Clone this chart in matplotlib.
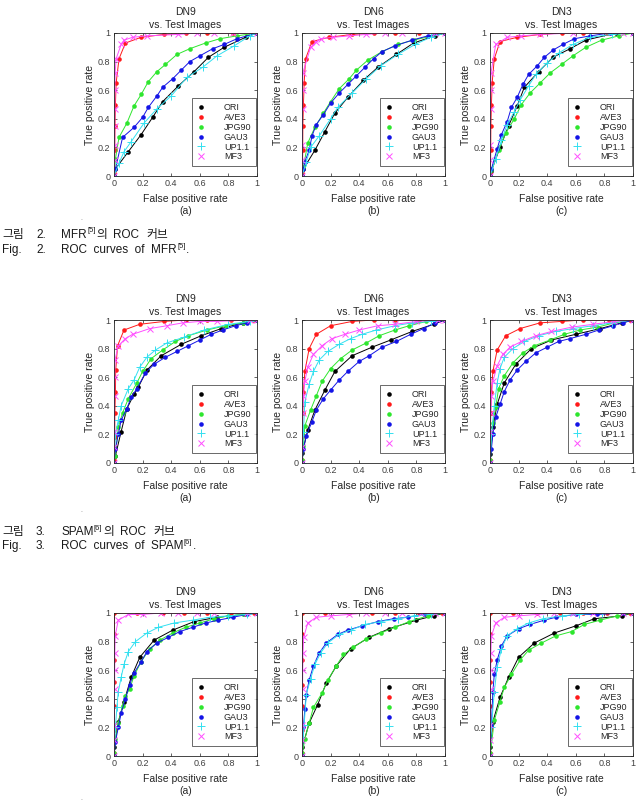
import matplotlib
matplotlib.use("Agg")
import matplotlib.pyplot as plt
from matplotlib.lines import Line2D

W, H = 640, 811
plt.rcParams['font.family'] = ['Liberation Sans', 'Noto Sans CJK KR', 'DejaVu Sans']

# ---------------- data (FPR list, TPR list) ----------------
# Fig. 2 : MFR
MFR_DN9_ORI = ([0, 0.01, 0.10, 0.19, 0.27, 0.34, 0.45, 0.56, 0.66, 0.77, 0.92, 1.0],
               [0, 0.05, 0.17, 0.29, 0.41, 0.52, 0.63, 0.73, 0.83, 0.90, 0.97, 1.0])
MFR_DN9_AVE3 = ([0, 0.003, 0.005, 0.007, 0.01, 0.015, 0.035, 0.08, 0.19, 0.35, 0.50, 0.65, 0.83, 1.0],
                [0, 0.02, 0.18, 0.35, 0.50, 0.65, 0.82, 0.93, 0.97, 0.99, 1.0, 1.0, 1.0, 1.0])
MFR_DN9_JPG90 = ([0, 0.01, 0.035, 0.09, 0.14, 0.19, 0.24, 0.30, 0.36, 0.44, 0.53, 0.64, 0.74, 0.86, 1.0],
                 [0, 0.12, 0.27, 0.37, 0.49, 0.57, 0.66, 0.73, 0.78, 0.85, 0.89, 0.93, 0.96, 0.98, 1.0])
MFR_DN9_GAU3 = ([0, 0.01, 0.06, 0.14, 0.20, 0.24, 0.30, 0.34, 0.41, 0.47, 0.53, 0.60, 0.69, 0.77, 0.86, 1.0],
                [0, 0.05, 0.27, 0.34, 0.41, 0.48, 0.56, 0.62, 0.68, 0.74, 0.80, 0.84, 0.89, 0.92, 0.96, 1.0])
MFR_DN9_UP11 = ([0, 0.035, 0.07, 0.12, 0.21, 0.30, 0.40, 0.51, 0.62, 0.72, 0.84, 0.95, 1.0],
                [0, 0.09, 0.17, 0.24, 0.37, 0.47, 0.56, 0.69, 0.76, 0.84, 0.91, 0.98, 1.0])
MFR_DN9_MF3 = ([0, 0.004, 0.005, 0.005, 0.006, 0.006, 0.008, 0.015, 0.05, 0.07, 0.13, 0.23, 0.45, 0.58, 0.70, 0.83, 1.0],
               [0, 0.11, 0.22, 0.35, 0.47, 0.60, 0.72, 0.82, 0.92, 0.95, 0.97, 0.98, 0.99, 1.0, 1.0, 1.0, 1.0])

MFR_DN6_ORI = ([0, 0.01, 0.09, 0.16, 0.23, 0.32, 0.43, 0.53, 0.66, 0.78, 0.93, 1.0],
               [0, 0.05, 0.18, 0.31, 0.44, 0.55, 0.67, 0.76, 0.85, 0.93, 0.98, 1.0])
MFR_DN6_AVE3 = ([0, 0.003, 0.005, 0.006, 0.01, 0.015, 0.025, 0.07, 0.19, 0.35, 0.50, 0.65, 0.82, 1.0],
                [0, 0.02, 0.18, 0.35, 0.50, 0.65, 0.82, 0.94, 0.97, 0.99, 1.0, 1.0, 1.0, 1.0])
MFR_DN6_JPG90 = ([0, 0.01, 0.04, 0.09, 0.15, 0.20, 0.26, 0.33, 0.38, 0.46, 0.56, 0.67, 0.78, 1.0],
                 [0, 0.06, 0.23, 0.34, 0.44, 0.52, 0.61, 0.68, 0.74, 0.81, 0.87, 0.92, 0.95, 1.0])
MFR_DN6_GAU3 = ([0, 0.01, 0.02, 0.05, 0.07, 0.10, 0.15, 0.20, 0.26, 0.32, 0.38, 0.44, 0.50, 0.56, 0.65, 0.77, 0.88, 1.0],
                [0, 0.05, 0.10, 0.18, 0.28, 0.36, 0.43, 0.51, 0.58, 0.64, 0.70, 0.76, 0.82, 0.87, 0.91, 0.95, 0.98, 1.0])
MFR_DN6_UP11 = ([0, 0.03, 0.06, 0.12, 0.20, 0.25, 0.35, 0.45, 0.55, 0.67, 0.79, 0.90, 1.0],
                [0, 0.10, 0.20, 0.28, 0.40, 0.48, 0.58, 0.68, 0.77, 0.85, 0.92, 0.97, 1.0])
MFR_DN6_MF3 = ([0, 0.002, 0.003, 0.004, 0.005, 0.006, 0.06, 0.10, 0.13, 0.22, 0.33, 0.45, 0.58, 0.70, 0.93, 1.0],
               [0, 0.11, 0.22, 0.47, 0.60, 0.72, 0.90, 0.94, 0.96, 0.97, 0.98, 0.99, 1.0, 1.0, 1.0, 1.0])

MFR_DN3_ORI = ([0, 0.01, 0.07, 0.13, 0.19, 0.24, 0.34, 0.44, 0.56, 0.67, 0.88, 1.0],
               [0, 0.035, 0.20, 0.35, 0.49, 0.62, 0.73, 0.83, 0.89, 0.95, 1.0, 1.0])
MFR_DN3_AVE3 = ([0, 0.003, 0.005, 0.006, 0.01, 0.015, 0.03, 0.07, 0.19, 0.35, 0.50, 0.65, 0.82, 1.0],
                [0, 0.02, 0.18, 0.35, 0.50, 0.65, 0.82, 0.94, 0.97, 0.99, 1.0, 1.0, 1.0, 1.0])
MFR_DN3_JPG90 = ([0, 0.01, 0.06, 0.11, 0.17, 0.22, 0.28, 0.35, 0.42, 0.50, 0.58, 0.67, 0.78, 0.90, 1.0],
                 [0, 0.04, 0.18, 0.30, 0.40, 0.50, 0.58, 0.65, 0.72, 0.78, 0.84, 0.90, 0.95, 0.98, 1.0])
MFR_DN3_GAU3 = ([0, 0.01, 0.05, 0.08, 0.12, 0.15, 0.19, 0.23, 0.27, 0.33, 0.38, 0.44, 0.51, 0.59, 0.70, 0.84, 1.0],
                [0, 0.05, 0.19, 0.29, 0.38, 0.48, 0.55, 0.64, 0.71, 0.77, 0.83, 0.88, 0.92, 0.96, 0.98, 1.0, 1.0])
MFR_DN3_UP11 = ([0, 0.04, 0.08, 0.12, 0.17, 0.21, 0.27, 0.32, 0.40, 0.48, 0.58, 0.70, 0.85, 1.0],
                [0, 0.12, 0.25, 0.36, 0.45, 0.53, 0.63, 0.71, 0.79, 0.86, 0.92, 0.97, 0.99, 1.0])
MFR_DN3_MF3 = ([0, 0.002, 0.003, 0.004, 0.005, 0.007, 0.04, 0.12, 0.22, 0.35, 0.58, 0.93, 1.0],
               [0, 0.11, 0.22, 0.47, 0.60, 0.72, 0.92, 0.97, 0.98, 0.99, 1.0, 1.0, 1.0])

# Fig. 3 : SPAM
SPAM_DN9_ORI = ([0, 0.01, 0.05, 0.09, 0.14, 0.17, 0.23, 0.33, 0.47, 0.61, 0.75, 0.90, 1.0],
                [0, 0.05, 0.22, 0.38, 0.48, 0.53, 0.65, 0.75, 0.83, 0.89, 0.94, 0.98, 1.0])
SPAM_DN9_AVE3 = ([0, 0.003, 0.005, 0.006, 0.01, 0.012, 0.025, 0.07, 0.18, 0.35, 0.50, 0.65, 0.82, 0.97, 1.0],
                 [0, 0.02, 0.18, 0.35, 0.50, 0.65, 0.82, 0.93, 0.97, 0.99, 1.0, 1.0, 1.0, 1.0, 1.0])
SPAM_DN9_JPG90 = ([0, 0.01, 0.03, 0.06, 0.10, 0.16, 0.20, 0.26, 0.34, 0.43, 0.52, 0.65, 0.78, 0.90, 1.0],
                  [0, 0.05, 0.25, 0.35, 0.45, 0.56, 0.64, 0.73, 0.79, 0.85, 0.89, 0.93, 0.96, 0.98, 1.0])
SPAM_DN9_GAU3 = ([0, 0.01, 0.03, 0.05, 0.09, 0.12, 0.16, 0.22, 0.28, 0.36, 0.44, 0.52, 0.60, 0.68, 0.76, 0.85, 0.93, 1.0],
                 [0, 0.10, 0.20, 0.30, 0.38, 0.46, 0.52, 0.63, 0.69, 0.74, 0.78, 0.82, 0.86, 0.90, 0.93, 0.96, 0.98, 1.0])
SPAM_DN9_UP11 = ([0, 0.01, 0.03, 0.05, 0.10, 0.14, 0.18, 0.23, 0.29, 0.37, 0.49, 0.63, 0.80, 0.95, 1.0],
                 [0, 0.20, 0.30, 0.40, 0.52, 0.58, 0.67, 0.74, 0.79, 0.84, 0.88, 0.93, 0.97, 0.99, 1.0])
SPAM_DN9_MF3 = ([0, 0.002, 0.003, 0.004, 0.005, 0.007, 0.03, 0.08, 0.13, 0.25, 0.37, 0.48, 0.60, 0.72, 0.95, 1.0],
                [0, 0.11, 0.22, 0.47, 0.60, 0.72, 0.82, 0.87, 0.90, 0.94, 0.96, 0.98, 0.99, 0.99, 1.0, 1.0])

SPAM_DN6_ORI = ([0, 0.002, 0.04, 0.09, 0.16, 0.23, 0.35, 0.49, 0.62, 0.77, 0.92, 1.0],
                [0, 0.07, 0.23, 0.37, 0.51, 0.64, 0.75, 0.81, 0.86, 0.92, 0.97, 1.0])
SPAM_DN6_AVE3 = ([0, 0.002, 0.003, 0.005, 0.01, 0.02, 0.05, 0.10, 0.20, 0.35, 0.50, 0.65, 0.82, 1.0],
                 [0, 0.02, 0.18, 0.35, 0.50, 0.64, 0.80, 0.90, 0.96, 0.99, 1.0, 1.0, 1.0, 1.0])
SPAM_DN6_JPG90 = ([0, 0.003, 0.01, 0.02, 0.06, 0.10, 0.14, 0.20, 0.27, 0.35, 0.45, 0.54, 0.65, 0.75, 0.87, 1.0],
                  [0, 0.02, 0.12, 0.26, 0.37, 0.47, 0.57, 0.66, 0.73, 0.79, 0.84, 0.89, 0.93, 0.96, 0.99, 1.0])
SPAM_DN6_GAU3 = ([0, 0.01, 0.03, 0.07, 0.10, 0.15, 0.20, 0.26, 0.32, 0.40, 0.47, 0.56, 0.66, 0.76, 0.85, 0.93, 1.0],
                 [0, 0.10, 0.19, 0.29, 0.37, 0.45, 0.51, 0.58, 0.64, 0.71, 0.75, 0.81, 0.85, 0.90, 0.94, 0.98, 1.0])
SPAM_DN6_UP11 = ([0, 0.01, 0.02, 0.05, 0.08, 0.12, 0.18, 0.26, 0.34, 0.42, 0.52, 0.65, 0.77, 0.90, 1.0],
                 [0, 0.22, 0.43, 0.55, 0.64, 0.72, 0.78, 0.83, 0.87, 0.90, 0.93, 0.96, 0.98, 0.99, 1.0])
SPAM_DN6_MF3 = ([0, 0.002, 0.005, 0.01, 0.02, 0.04, 0.08, 0.14, 0.21, 0.30, 0.40, 0.53, 0.65, 0.80, 0.95, 1.0],
                [0, 0.11, 0.35, 0.47, 0.57, 0.67, 0.76, 0.82, 0.87, 0.90, 0.93, 0.96, 0.97, 0.99, 1.0, 1.0])

SPAM_DN3_ORI = ([0, 0.002, 0.02, 0.05, 0.10, 0.18, 0.29, 0.43, 0.60, 0.77, 0.92, 1.0],
                [0, 0.06, 0.25, 0.41, 0.56, 0.69, 0.80, 0.86, 0.90, 0.94, 0.98, 1.0])
SPAM_DN3_AVE3 = ([0, 0.002, 0.003, 0.005, 0.01, 0.02, 0.05, 0.11, 0.21, 0.35, 0.50, 0.65, 0.83, 0.98, 1.0],
                 [0, 0.02, 0.18, 0.35, 0.50, 0.64, 0.79, 0.89, 0.94, 0.98, 0.99, 1.0, 1.0, 1.0, 1.0])
SPAM_DN3_JPG90 = ([0, 0.003, 0.02, 0.04, 0.06, 0.10, 0.16, 0.23, 0.31, 0.42, 0.52, 0.63, 0.75, 0.87, 1.0],
                  [0, 0.02, 0.28, 0.39, 0.52, 0.61, 0.70, 0.77, 0.82, 0.86, 0.90, 0.93, 0.95, 0.98, 1.0])
SPAM_DN3_GAU3 = ([0, 0.01, 0.02, 0.04, 0.07, 0.10, 0.14, 0.19, 0.25, 0.32, 0.40, 0.48, 0.56, 0.67, 0.76, 0.86, 0.93, 1.0],
                 [0, 0.10, 0.20, 0.32, 0.41, 0.50, 0.58, 0.65, 0.71, 0.77, 0.81, 0.85, 0.87, 0.90, 0.93, 0.96, 0.98, 1.0])
SPAM_DN3_UP11 = ([0, 0.01, 0.03, 0.05, 0.07, 0.10, 0.16, 0.24, 0.34, 0.46, 0.58, 0.72, 0.85, 1.0],
                 [0, 0.20, 0.40, 0.56, 0.66, 0.74, 0.80, 0.85, 0.89, 0.92, 0.94, 0.96, 0.98, 1.0])
SPAM_DN3_MF3 = ([0, 0.002, 0.005, 0.01, 0.02, 0.05, 0.09, 0.14, 0.22, 0.32, 0.43, 0.57, 0.72, 0.87, 1.0],
                [0, 0.22, 0.35, 0.47, 0.57, 0.68, 0.76, 0.81, 0.85, 0.89, 0.92, 0.95, 0.97, 0.99, 1.0])

# Fig. 4 (third row)
FIG4_DN9_ORI = ([0, 0.002, 0.03, 0.07, 0.12, 0.18, 0.28, 0.41, 0.56, 0.72, 0.91, 1.0],
                [0, 0.06, 0.24, 0.38, 0.55, 0.69, 0.81, 0.88, 0.94, 0.97, 0.99, 1.0])
FIG4_DN9_AVE3 = ([0, 0.001, 0.002, 0.002, 0.002, 0.002, 0.002, 0.003, 0.16, 0.34, 0.49, 0.65, 0.82, 0.98, 1.0],
                 [0, 0.02, 0.18, 0.35, 0.52, 0.67, 0.85, 1.0, 1.0, 1.0, 1.0, 1.0, 1.0, 1.0, 1.0])
FIG4_DN9_JPG90 = ([0, 0.003, 0.01, 0.03, 0.06, 0.08, 0.11, 0.14, 0.19, 0.25, 0.32, 0.41, 0.50, 0.60, 0.70, 0.80, 0.90, 1.0],
                  [0, 0.02, 0.12, 0.23, 0.35, 0.42, 0.47, 0.56, 0.66, 0.75, 0.81, 0.86, 0.90, 0.93, 0.96, 0.98, 0.99, 1.0])
FIG4_DN9_GAU3 = ([0, 0.01, 0.03, 0.05, 0.08, 0.11, 0.14, 0.19, 0.23, 0.30, 0.38, 0.46, 0.55, 0.64, 0.73, 0.83, 0.93, 1.0],
                 [0, 0.10, 0.20, 0.30, 0.40, 0.50, 0.58, 0.66, 0.73, 0.79, 0.83, 0.87, 0.90, 0.93, 0.95, 0.97, 0.99, 1.0])
FIG4_DN9_UP11 = ([0, 0.01, 0.02, 0.03, 0.05, 0.07, 0.10, 0.15, 0.23, 0.31, 0.42, 0.55, 0.67, 0.80, 0.93, 1.0],
                 [0, 0.20, 0.34, 0.45, 0.55, 0.64, 0.73, 0.80, 0.86, 0.90, 0.93, 0.95, 0.97, 0.98, 0.99, 1.0])
FIG4_DN9_MF3 = ([0, 0.002, 0.003, 0.004, 0.005, 0.006, 0.008, 0.03, 0.10, 0.20, 0.33, 0.45, 0.58, 0.70, 0.93, 1.0],
                [0, 0.11, 0.22, 0.47, 0.60, 0.72, 0.84, 0.95, 0.99, 0.99, 1.0, 1.0, 1.0, 1.0, 1.0, 1.0])

FIG4_DN6_ORI = ([0, 0.002, 0.05, 0.11, 0.17, 0.24, 0.34, 0.47, 0.61, 0.80, 0.92, 1.0],
                [0, 0.06, 0.23, 0.36, 0.51, 0.63, 0.75, 0.83, 0.89, 0.95, 0.98, 1.0])
FIG4_DN6_AVE3 = ([0, 0.001, 0.002, 0.002, 0.002, 0.002, 0.002, 0.003, 0.16, 0.33, 0.49, 0.65, 0.82, 0.98, 1.0],
                 [0, 0.02, 0.18, 0.35, 0.50, 0.67, 0.85, 1.0, 1.0, 1.0, 1.0, 1.0, 1.0, 1.0, 1.0])
FIG4_DN6_JPG90 = ([0, 0.003, 0.02, 0.05, 0.08, 0.14, 0.18, 0.24, 0.29, 0.36, 0.45, 0.55, 0.65, 0.75, 0.88, 1.0],
                  [0, 0.02, 0.12, 0.23, 0.34, 0.44, 0.53, 0.63, 0.71, 0.76, 0.82, 0.86, 0.90, 0.94, 0.98, 1.0])
FIG4_DN6_GAU3 = ([0, 0.01, 0.02, 0.03, 0.05, 0.08, 0.12, 0.17, 0.25, 0.32, 0.42, 0.53, 0.64, 0.74, 0.85, 1.0],
                 [0, 0.20, 0.33, 0.43, 0.53, 0.63, 0.72, 0.79, 0.85, 0.88, 0.91, 0.94, 0.96, 0.97, 0.99, 1.0])
FIG4_DN6_UP11 = ([0, 0.015, 0.03, 0.06, 0.09, 0.13, 0.18, 0.26, 0.34, 0.44, 0.55, 0.67, 0.78, 0.90, 1.0],
                 [0, 0.22, 0.43, 0.54, 0.64, 0.72, 0.79, 0.85, 0.88, 0.92, 0.94, 0.96, 0.98, 0.99, 1.0])
FIG4_DN6_MF3 = ([0, 0.002, 0.003, 0.004, 0.005, 0.007, 0.012, 0.04, 0.10, 0.20, 0.33, 0.45, 0.58, 0.70, 0.83, 0.93, 1.0],
                [0, 0.11, 0.22, 0.47, 0.60, 0.72, 0.83, 0.93, 0.97, 0.98, 0.99, 1.0, 1.0, 1.0, 1.0, 1.0, 1.0])

FIG4_DN3_ORI = ([0, 0.002, 0.02, 0.07, 0.13, 0.20, 0.31, 0.45, 0.60, 0.73, 0.92, 1.0],
                [0, 0.06, 0.24, 0.41, 0.55, 0.69, 0.79, 0.86, 0.91, 0.96, 0.98, 1.0])
FIG4_DN3_AVE3 = ([0, 0.001, 0.002, 0.002, 0.002, 0.002, 0.002, 0.003, 0.16, 0.33, 0.49, 0.65, 0.82, 0.98, 1.0],
                 [0, 0.02, 0.18, 0.35, 0.52, 0.67, 0.85, 1.0, 1.0, 1.0, 1.0, 1.0, 1.0, 1.0, 1.0])
FIG4_DN3_JPG90 = ([0, 0.003, 0.03, 0.07, 0.10, 0.15, 0.21, 0.27, 0.36, 0.46, 0.57, 0.66, 0.77, 0.89, 1.0],
                  [0, 0.02, 0.25, 0.38, 0.48, 0.57, 0.67, 0.74, 0.79, 0.84, 0.87, 0.92, 0.95, 0.98, 1.0])
FIG4_DN3_GAU3 = ([0, 0.01, 0.02, 0.03, 0.05, 0.08, 0.12, 0.20, 0.28, 0.38, 0.46, 0.60, 0.75, 0.93, 1.0],
                 [0, 0.22, 0.45, 0.57, 0.67, 0.77, 0.84, 0.89, 0.92, 0.95, 0.97, 0.99, 0.99, 1.0, 1.0])
FIG4_DN3_UP11 = ([0, 0.01, 0.03, 0.05, 0.08, 0.12, 0.19, 0.27, 0.37, 0.50, 0.62, 0.78, 1.0],
                 [0, 0.20, 0.45, 0.62, 0.75, 0.84, 0.89, 0.93, 0.96, 0.98, 0.99, 1.0, 1.0])
FIG4_DN3_MF3 = ([0, 0.002, 0.003, 0.004, 0.005, 0.006, 0.01, 0.04, 0.10, 0.20, 0.33, 0.45, 0.58, 0.72, 0.93, 1.0],
                [0, 0.11, 0.22, 0.47, 0.60, 0.72, 0.84, 0.93, 0.97, 0.98, 0.99, 1.0, 1.0, 1.0, 1.0, 1.0])

SERIES_NAMES = ['ORI', 'AVE3', 'JPG90', 'GAU3', 'UP1.1', 'MF3']
PANEL_TITLES = ['DN9', 'DN6', 'DN3']
PANEL_LETTERS = ['(a)', '(b)', '(c)']
TICKS = [0, 0.2, 0.4, 0.6, 0.8, 1]
TICK_LABELS = ['0', '0.2', '0.4', '0.6', '0.8', '1']

ROWS = [
    [[MFR_DN9_ORI, MFR_DN9_AVE3, MFR_DN9_JPG90, MFR_DN9_GAU3, MFR_DN9_UP11, MFR_DN9_MF3],
     [MFR_DN6_ORI, MFR_DN6_AVE3, MFR_DN6_JPG90, MFR_DN6_GAU3, MFR_DN6_UP11, MFR_DN6_MF3],
     [MFR_DN3_ORI, MFR_DN3_AVE3, MFR_DN3_JPG90, MFR_DN3_GAU3, MFR_DN3_UP11, MFR_DN3_MF3]],
    [[SPAM_DN9_ORI, SPAM_DN9_AVE3, SPAM_DN9_JPG90, SPAM_DN9_GAU3, SPAM_DN9_UP11, SPAM_DN9_MF3],
     [SPAM_DN6_ORI, SPAM_DN6_AVE3, SPAM_DN6_JPG90, SPAM_DN6_GAU3, SPAM_DN6_UP11, SPAM_DN6_MF3],
     [SPAM_DN3_ORI, SPAM_DN3_AVE3, SPAM_DN3_JPG90, SPAM_DN3_GAU3, SPAM_DN3_UP11, SPAM_DN3_MF3]],
    [[FIG4_DN9_ORI, FIG4_DN9_AVE3, FIG4_DN9_JPG90, FIG4_DN9_GAU3, FIG4_DN9_UP11, FIG4_DN9_MF3],
     [FIG4_DN6_ORI, FIG4_DN6_AVE3, FIG4_DN6_JPG90, FIG4_DN6_GAU3, FIG4_DN6_UP11, FIG4_DN6_MF3],
     [FIG4_DN3_ORI, FIG4_DN3_AVE3, FIG4_DN3_JPG90, FIG4_DN3_GAU3, FIG4_DN3_UP11, FIG4_DN3_MF3]],
]

# ---------------- styles ----------------
COLORS = ['#000000', '#ff1a1a', '#2ee62e', '#1414e6', '#33e0f0', '#ff4dff']
MARKERS = ['o', 'o', 'o', 'o', '+', 'x']
MSIZES = [3.3, 3.3, 3.3, 3.3, 5.5, 4.0]
TXT = '#262626'

fig = plt.figure(figsize=(W / 100, H / 100), dpi=100)
fig.patch.set_facecolor('white')

AX_LEFT = [114, 302, 490]
AX_TOP = [33, 320, 613]
AX_W, AX_H = 143, 143


def px_rect(l, t, w, h):
    return [l / W, 1 - (t + h) / H, w / W, h / H]


for r, row in enumerate(ROWS):
    for c, panel in enumerate(row):
        ax = fig.add_axes(px_rect(AX_LEFT[c], AX_TOP[r], AX_W, AX_H))
        for i, (fx, ty) in enumerate(panel):
            if MARKERS[i] == 'o':
                ax.plot(fx, ty, color=COLORS[i], lw=0.7, marker='o', ms=MSIZES[i],
                        mec='none', mfc=COLORS[i])
            else:
                ax.plot(fx, ty, color=COLORS[i], lw=0.7, marker=MARKERS[i], ms=MSIZES[i],
                        mew=0.7)
        ax.set_xlim(0, 1)
        ax.set_ylim(0, 1)
        ax.set_xticks(TICKS)
        ax.set_xticklabels(TICK_LABELS)
        ax.set_yticks(TICKS)
        ax.set_yticklabels(TICK_LABELS)
        ax.tick_params(direction='in', length=2.5, width=0.5, top=True, right=True,
                       labelsize=6.5, labelcolor='#404040', color=TXT, pad=2.5)
        for s in ax.spines.values():
            s.set_linewidth(0.6)
            s.set_color(TXT)
        ax.text(0.5, 1.15, PANEL_TITLES[c], transform=ax.transAxes, ha='center',
                va='center', fontsize=7.5, color=TXT)
        ax.text(0.5, 1.055, 'vs. Test Images', transform=ax.transAxes, ha='center',
                va='center', fontsize=7.5, color=TXT)
        ax.text(0.5, -0.16, 'False positive rate', transform=ax.transAxes, ha='center',
                va='center', fontsize=7.5, color=TXT)
        ax.text(0.5, -0.245, PANEL_LETTERS[c], transform=ax.transAxes, ha='center',
                va='center', fontsize=7.5, color=TXT)
        ax.text(-0.17, 0.5, 'True positive rate', transform=ax.transAxes, ha='center',
                va='center', fontsize=7.5, color=TXT, rotation=90)
        handles = []
        for i in range(6):
            if MARKERS[i] == 'o':
                handles.append(Line2D([], [], ls='none', marker='o', ms=MSIZES[i],
                                      mec='none', mfc=COLORS[i]))
            else:
                handles.append(Line2D([], [], ls='none', marker=MARKERS[i], ms=MSIZES[i],
                                      mew=0.7, color=COLORS[i]))
        leg = ax.legend(handles, SERIES_NAMES, loc='lower right',
                        bbox_to_anchor=(0.993, 0.07), fontsize=6.5, frameon=True,
                        fancybox=False, edgecolor=TXT, borderpad=0.5,
                        labelspacing=0.1, handlelength=1.0, handletextpad=2.0,
                        borderaxespad=0.0)
        leg.get_frame().set_linewidth(0.6)
        for t in leg.get_texts():
            t.set_color(TXT)

# ---------------- captions ----------------
renderer = fig.canvas.get_renderer()
CAP = 8.5


def put(x, y, s, size=CAP, **kw):
    return fig.text(x / W, 1 - y / H, s, fontsize=size, ha='left', va='center',
                    color='#1a1a1a', **kw)


def right_px(t):
    return t.get_window_extent(renderer).x1


def caption(y1, y2, num, name, ref, x_roc, x_curve):
    put(2, y1, '그림')
    put(36, y1, num)
    t = put(61, y1, name)
    s = put(right_px(t) + 0.5, y1 - 4, ref, size=5.5)
    k = put(right_px(s) + 0.5, y1, '의')
    x_roc = max(x_roc, right_px(k) + 6)
    t2 = put(x_roc, y1, 'ROC')
    put(max(x_curve, right_px(t2) + 7), y1, '커브')
    put(2, y2, 'Fig.')
    put(36, y2, num)
    t = put(61, y2, 'ROC  curves  of  ' + name)
    s = put(right_px(t) + 0.5, y2 - 4, ref, size=5.5)
    put(right_px(s), y2, '.')


caption(235, 250, '2.', 'MFR', '[5]', 108, 139)
caption(532, 546, '3.', 'SPAM', '[6]', 115, 147)

for yy in [220, 512, 800]:
    put(81, yy, '-', size=4, alpha=0.5)

fig.savefig('out.png', dpi=100)
